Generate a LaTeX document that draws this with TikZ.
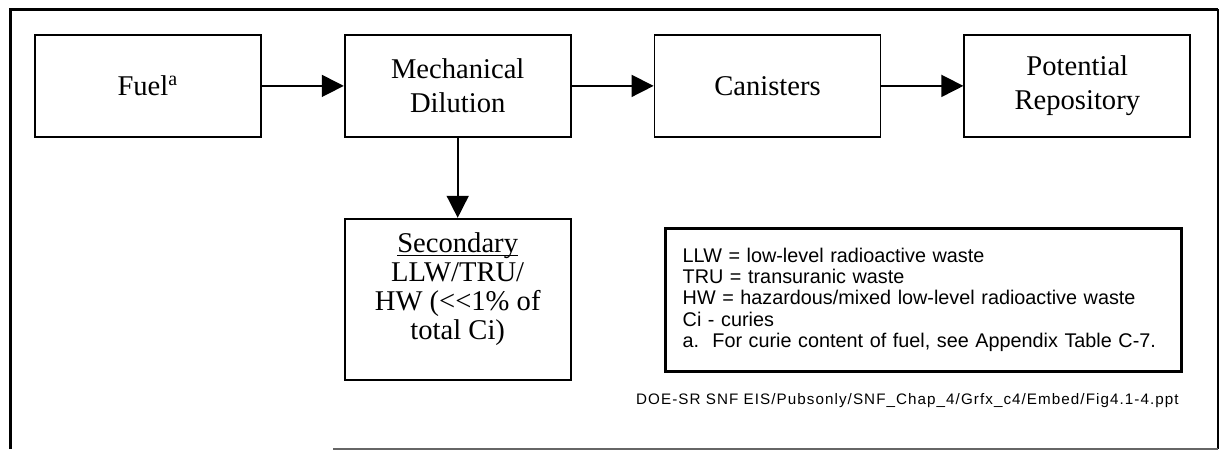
\documentclass[tikz,border=0pt]{standalone}
\usepackage{fontspec}
\setmainfont{Liberation Serif}
\setsansfont{Liberation Sans}
\newfontfamily\pathfont[LetterSpace=7]{Liberation Sans}
\usetikzlibrary{positioning, arrows.meta}

\tikzset{
  proc/.style={draw, line width=0.9pt, minimum width=113pt, minimum height=51pt, align=center, font=\fontsize{14.3}{17}\selectfont},
  flow/.style={line width=0.8pt, -{Triangle[length=11pt,width=11pt]}}
}

\begin{document}
\begin{tikzpicture}[x=0.5pt, y=-0.5pt, node distance=41pt]
		\useasboundingbox (0,0) rectangle (1222,450);
		\draw[line width=1.5pt] (10,449) -- (10,9) -- (1218,9);
		\draw[line width=0.6pt] (1218,9) -- (1218,449);
		\draw[line width=0.6pt, black!60] (333,449) -- (1218,449);

		\node[proc, anchor=north west] (fuel) at (34,34) {Fuel\textsuperscript{a}};
		\node[proc, right=of fuel] (dilution) {Mechanical\\Dilution};
		\node[proc, right=of dilution] (canisters) {Canisters};
		\node[proc, right=of canisters] (repository) {Potential\\Repository};

		\node[proc, below=40pt of dilution, minimum height=80.5pt, font=\fontsize{14.3}{14.5}\selectfont] (secondary) {\underline{\smash{Secondary}}\\LLW/TRU/\\HW (<{}<1\% of\\total Ci)};

		\node[draw, line width=1.3pt, anchor=north east, text width=241pt, inner xsep=8.5pt, minimum height=71.5pt, align=left, font=\fontsize{9.9}{10.7}\sffamily] (legend) at (1183,227) {LLW = low-level radioactive waste\\TRU = transuranic waste\\HW = hazardous/mixed low-level radioactive waste\\Ci - curies\\a.\ \ For curie content of fuel, see Appendix Table C-7.};

		\node[anchor=east, inner sep=0pt, font=\fontsize{7.6}{8}\pathfont] (footer) at (1179,401) {DOE-SR SNF EIS/Pubsonly/SNF\_Chap\_4/Grfx\_c4/Embed/Fig4.1-4.ppt};

		\draw[flow] (fuel) -- (dilution);
		\draw[flow] (dilution) -- (canisters);
		\draw[flow] (canisters) -- (repository);
		\draw[flow] (dilution) -- (secondary);
	\end{tikzpicture}
\end{document}
